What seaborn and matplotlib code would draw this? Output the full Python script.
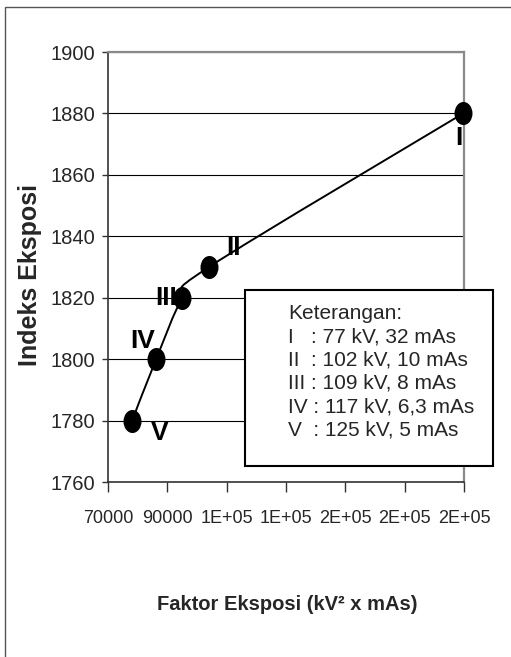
import matplotlib
matplotlib.use("Agg")
import matplotlib.pyplot as plt
import numpy as np
import pandas as pd
import seaborn as sns
from matplotlib.path import Path
from matplotlib.patches import PathPatch, Rectangle

# Exposure settings and the measured exposure index
labels = ["I", "II", "III", "IV", "V"]
kv = [77, 102, 109, 117, 125]
mas = [32, 10, 8, 6.3, 5]
indeks = [1880, 1830, 1820, 1800, 1780]
faktor = [k * k * m for k, m in zip(kv, mas)]

x_ticks = [70000, 90000, 110000, 130000, 150000, 170000, 190000]
x_tick_labels = ["70000", "90000", "1E+05", "1E+05", "2E+05", "2E+05", "2E+05"]
y_ticks = [1760, 1780, 1800, 1820, 1840, 1860, 1880, 1900]

legend_title = "Keterangan:"
legend_lines = [
    "I   : 77 kV, 32 mAs",
    "II  : 102 kV, 10 mAs",
    "III : 109 kV, 8 mAs",
    "IV : 117 kV, 6,3 mAs",
    "V  : 125 kV, 5 mAs",
]

df = pd.DataFrame({"label": labels, "faktor": faktor, "indeks": indeks})
df = df.sort_values("faktor").reset_index(drop=True)

sns.set_theme(style="white")
plt.rcParams["font.family"] = ["Liberation Sans", "DejaVu Sans"]

W, H = 511, 657
fig = plt.figure(figsize=(W / 100, H / 100), dpi=100)
fig.patch.set_facecolor("white")


def fx(px):
    return px / W


def fy(py):
    return 1 - py / H


ax = fig.add_axes([fx(108), fy(482), fx(464) - fx(108), fy(52) - fy(482)])
ax.set_xlim(70000, 190000)
ax.set_ylim(1760, 1900)

# smoothed connecting line (Catmull-Rom style Bezier segments)
pts = df[["faktor", "indeks"]].to_numpy(dtype=float)
n = len(pts)
verts = [tuple(pts[0])]
codes = [Path.MOVETO]
for i in range(n - 1):
    p0 = pts[max(i - 1, 0)]
    p1 = pts[i]
    p2 = pts[i + 1]
    p3 = pts[min(i + 2, n - 1)]
    c1 = p1 + (p2 - p0) / 6.0
    c2 = p2 - (p3 - p1) / 6.0
    verts += [tuple(c1), tuple(c2), tuple(p2)]
    codes += [Path.CURVE4] * 3
ax.add_patch(PathPatch(Path(verts, codes), facecolor="none",
                       edgecolor="black", lw=1.4, zorder=3))

# elliptical markers
circ = Path.unit_circle()
ell = Path(circ.vertices * np.array([0.78, 1.0]), circ.codes)
sns.scatterplot(data=df, x="faktor", y="indeks", ax=ax, marker=ell,
                s=16.6 ** 2, color="black", edgecolor="black",
                linewidth=0, zorder=4, clip_on=False, legend=False)

# point labels (offsets in pixels)
offsets = {"I": (-4, -25), "II": (25, 19), "III": (-16, 0),
           "IV": (-13, 18), "V": (28, -12)}
for _, r in df.iterrows():
    dx, dy = offsets[r["label"]]
    ax.annotate(r["label"], (r["faktor"], r["indeks"]),
                xytext=(dx * 0.72, dy * 0.72), textcoords="offset points",
                ha="center", va="center", fontsize=19, fontweight="bold",
                color="black", zorder=5, annotation_clip=False)

ax.set_xticks(x_ticks)
ax.set_xticklabels(x_tick_labels, fontsize=13)
ax.set_yticks(y_ticks)
ax.set_yticklabels([str(v) for v in y_ticks], fontsize=14.5)
ax.tick_params(axis="x", direction="out", length=7, width=1, color="#333333",
               pad=13, bottom=True)
ax.tick_params(axis="y", direction="out", length=4, width=1, color="#333333",
               pad=5, left=True)
ax.set_xlabel("")
ax.set_ylabel("")

ax.set_axisbelow(True)
ax.yaxis.grid(True, color="black", lw=0.8)
ax.xaxis.grid(False)
for side in ["left", "bottom"]:
    ax.spines[side].set_color("#333333")
    ax.spines[side].set_linewidth(1.2)
for side in ["top", "right"]:
    ax.spines[side].set_color("#8a8a8a")
    ax.spines[side].set_linewidth(1.6)

# axis titles
fig.text(fx(30), fy(275), "Indeks Eksposi", rotation=90, ha="center",
         va="center", fontsize=18, fontweight="bold")
fig.text(fx(287), fy(604), "Faktor Eksposi (kV² x mAs)", ha="center",
         va="center", fontsize=14.5, fontweight="bold")

# notes box
box = Rectangle((fx(245), fy(466)), fx(493) - fx(245), fy(290) - fy(466),
                transform=fig.transFigure, facecolor="white",
                edgecolor="black", lw=1.5, zorder=10)
fig.add_artist(box)
base = 319
fig.text(fx(288), fy(base), legend_title, ha="left", va="baseline",
         fontsize=15, zorder=11)
for i, line in enumerate(legend_lines):
    fig.text(fx(288), fy(base + 23.3 * (i + 1)), line, ha="left",
             va="baseline", fontsize=15, zorder=11)

# chart border
frame = Rectangle((fx(5), -0.05), 1.2, fy(7) + 0.05,
                  transform=fig.transFigure, facecolor="none",
                  edgecolor="#555555", lw=1.0, zorder=0)
fig.add_artist(frame)

fig.savefig("out.png", dpi=100, facecolor="white")
